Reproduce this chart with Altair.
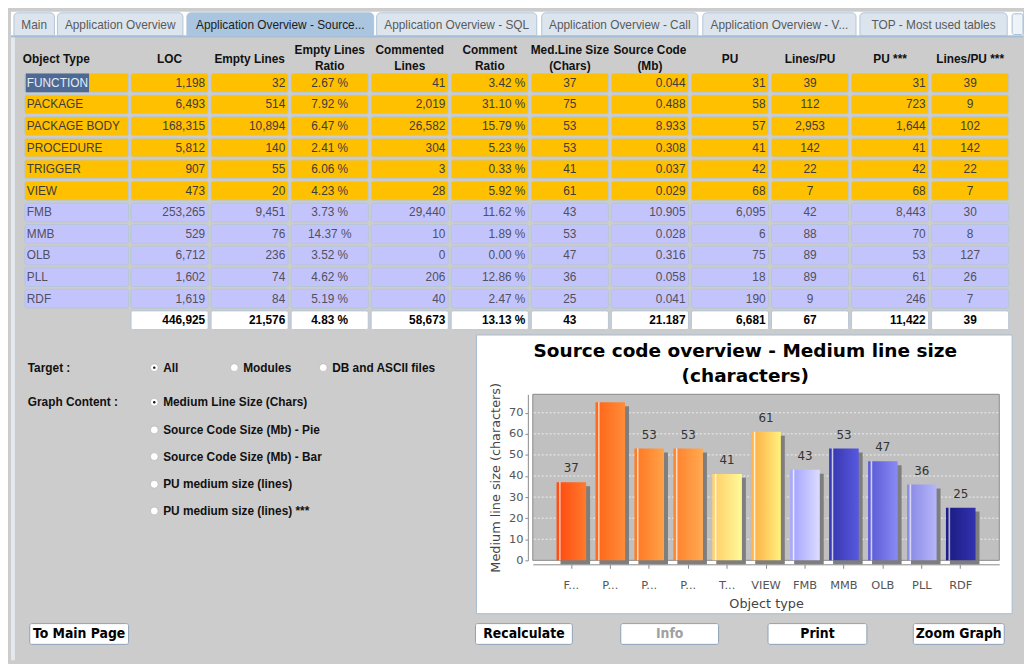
import altair as alt
import pandas as pd

# ------------------------------------------------------------------ data
tab_labels = ["Main", "Application Overview", "Application Overview - Source...",
              "Application Overview - SQL", "Application Overview - Call",
              "Application Overview - V...", "TOP - Most used tables"]
active_tab = "Application Overview - Source..."

object_types = ["FUNCTION", "PACKAGE", "PACKAGE BODY", "PROCEDURE", "TRIGGER", "VIEW",
                "FMB", "MMB", "OLB", "PLL", "RDF"]
object_groups = ["Database", "Database", "Database", "Database", "Database", "Database",
                 "File", "File", "File", "File", "File"]
selected_object = "FUNCTION"

column_names = ["LOC", "Empty Lines", "Empty Lines Ratio", "Commented Lines", "Comment Ratio",
                "Med.Line Size (Chars)", "Source Code (Mb)", "PU", "Lines/PU", "PU ***", "Lines/PU ***"]
column_headers = ["LOC", "Empty Lines", "Empty Lines\nRatio", "Commented\nLines", "Comment\nRatio",
                  "Med.Line Size\n(Chars)", "Source Code\n(Mb)", "PU", "Lines/PU", "PU ***", "Lines/PU ***"]
first_column = "Object Type"

loc = [1198, 6493, 168315, 5812, 907, 473, 253265, 529, 6712, 1602, 1619]
empty_lines = [32, 514, 10894, 140, 55, 20, 9451, 76, 236, 74, 84]
empty_ratio = [2.67, 7.92, 6.47, 2.41, 6.06, 4.23, 3.73, 14.37, 3.52, 4.62, 5.19]
commented = [41, 2019, 26582, 304, 3, 28, 29440, 10, 0, 206, 40]
comment_ratio = [3.42, 31.10, 15.79, 5.23, 0.33, 5.92, 11.62, 1.89, 0.00, 12.86, 2.47]
med_line_size = [37, 75, 53, 53, 41, 61, 43, 53, 47, 36, 25]
source_mb = [0.044, 0.488, 8.933, 0.308, 0.037, 0.029, 10.905, 0.028, 0.316, 0.058, 0.041]
pu = [31, 58, 57, 41, 42, 68, 6095, 6, 75, 18, 190]
lines_per_pu = [39, 112, 2953, 142, 22, 7, 42, 88, 89, 89, 9]
pu_3 = [31, 723, 1644, 41, 42, 68, 8443, 70, 53, 61, 246]
lines_per_pu_3 = [39, 9, 102, 142, 22, 7, 30, 8, 127, 26, 7]
totals = [446925, 21576, 4.83, 58673, 13.13, 43, 21.187, 6681, 67, 11422, 39]

target_label = "Target :"
target_options = ["All", "Modules", "DB and ASCII files"]
target_selected = "All"
graph_label = "Graph Content :"
graph_options = ["Medium Line Size (Chars)", "Source Code Size (Mb) - Pie",
                 "Source Code Size (Mb) - Bar", "PU medium size (lines)", "PU medium size (lines) ***"]
graph_selected = "Medium Line Size (Chars)"

button_labels = ["To Main Page", "Recalculate", "Info", "Print", "Zoom Graph"]
disabled_buttons = ["Info"]

chart_title = ["Source code overview - Medium line size", "(characters)"]
x_title = "Object type"
y_title = "Medium line size (characters)"
y_ticks = [0, 10, 20, 30, 40, 50, 60, 70]
y_max = 78.75

# ------------------------------------------------------------------ styles / layout
UI_FONT = "Liberation Sans"
CHART_FONT = "DejaVu Sans"
BTN_FONT = "Liberation Sans Narrow, DejaVu Sans Condensed, Liberation Sans"
PANEL = "#CCCCCC"
COLUMN_KIND = ["int", "int", "pct", "int", "pct", "int", "mb", "int", "int", "int", "int"]
COLUMN_ALIGN = ["right", "right", "center", "right", "right", "center", "right", "right",
                "center", "right", "center"]
GROUP_FILL = {"Database": "#FFC000", "File": "#C4C4FC", "Total": "#FFFFFF"}
GROUP_TEXT = {"Database": "#3C3C3C", "File": "#50505E", "Total": "#000000"}
SELECTED_TEXT = "#E4ECF6"
BAR_COLORS = {
    "FUNCTION": ("#FF4F12", "#FF7B2E"), "PACKAGE": ("#FF6A1C", "#FF8D3A"),
    "PACKAGE BODY": ("#FF7C28", "#FFA248"), "PROCEDURE": ("#FF8630", "#FFAA52"),
    "TRIGGER": ("#FFD36E", "#FFFA9A"), "VIEW": ("#FFB54A", "#FFF27C"),
    "FMB": ("#A9A9FF", "#DCDCFF"), "MMB": ("#3A3AB4", "#5858E0"),
    "OLB": ("#5F5FD8", "#8A8AF6"), "PLL": ("#8E8EE8", "#B6B6FA"),
    "RDF": ("#1E1E86", "#3232B0"),
}
TAB_LAYOUT = [(3, 44), (47, 174), (178, 367), (370, 532), (537, 695), (700, 855), (859, 1008)]
BUTTON_LAYOUT = [(19, 119), (470, 568), (617, 716), (766, 866), (913, 1005)]
TARGET_X = [154, 235, 325]
GRAPH_Y = [8, 36, 63, 91, 118]
FIRST_COL_RANGE = [14, 119]
REST_COL_RANGE = [120, 1011]
COL_PAD_INNER, COL_PAD_OUTER = 0.037, 0.0185
PLOT_RANGE = [528, 1000]      # horizontal extent of the bar plot inside the bottom row
PLOT_H = 168
NO_STROKE = alt.ViewBackground(stroke="transparent", strokeWidth=0)

# band widths, used to shift texts to the cell edges
first_band = FIRST_COL_RANGE[1] - FIRST_COL_RANGE[0]
rest_step = (REST_COL_RANGE[1] - REST_COL_RANGE[0]) / (len(column_names) - COL_PAD_INNER + 2 * COL_PAD_OUTER)
rest_band = rest_step * (1 - COL_PAD_INNER)

one = pd.DataFrame({"v": [0]})


def fmt(v, kind):
    if kind == "pct":
        return f"{v:.2f} %"
    if kind == "mb":
        return f"{v:.3f}"
    return f"{int(v):,}"


def blend(c, w):
    r, g, b = int(c[1:3], 16), int(c[3:5], 16), int(c[5:7], 16)
    return "#%02X%02X%02X" % tuple(int(x + (255 - x) * w) for x in (r, g, b))


# ------------------------------------------------------------------ tabs row
tab_df = pd.DataFrame({
    "label": tab_labels,
    "x0": [a for a, b in TAB_LAYOUT], "x1": [b for a, b in TAB_LAYOUT],
    "xm": [(a + b) / 2 for a, b in TAB_LAYOUT],
    "active": [t == active_tab for t in tab_labels],
})
tab_bg = alt.Chart(one).mark_rect(fill="#FFFFFF").encode(
    x=alt.value(0), x2=alt.value(1024), y=alt.value(0), y2=alt.value(24))
tab_line = alt.Chart(one).mark_rect(fill="#A6BED6").encode(
    x=alt.value(0), x2=alt.value(1024), y=alt.value(24), y2=alt.value(26))
left_strip = alt.Chart(one).mark_rect(fill="#E4E9EE").encode(
    x=alt.value(0), x2=alt.value(4), y=alt.value(26), y2=alt.value(656))
scroll_box = alt.Chart(one).mark_rect(fill="#EEF3F8", stroke="#A6BED6", cornerRadius=2).encode(
    x=alt.value(1013), x2=alt.value(1024), y=alt.value(2), y2=alt.value(23))
tab_rects = alt.Chart(tab_df).mark_rect(
    cornerRadiusTopLeft=4, cornerRadiusTopRight=4, stroke="#B3C4D6", strokeWidth=1).encode(
    x=alt.X("x0:Q", scale=None, axis=None), x2="x1:Q",
    y=alt.value(1), y2=alt.value(24),
    fill=alt.condition(alt.datum.active, alt.value("#A9C5DF"), alt.value("#DCE5EE")))
tab_text = alt.Chart(tab_df).mark_text(font=UI_FONT, fontSize=12, baseline="middle").encode(
    x=alt.X("xm:Q", scale=None, axis=None), y=alt.value(13), text="label:N",
    color=alt.condition(alt.datum.active, alt.value("#202020"), alt.value("#5A5A5A")))
tabs = alt.layer(tab_bg, tab_line, left_strip, scroll_box, tab_rects, tab_text).properties(
    width=1024, height=26, view=NO_STROKE)

# ------------------------------------------------------------------ table
series = [loc, empty_lines, empty_ratio, commented, comment_ratio, med_line_size,
          source_mb, pu, lines_per_pu, pu_3, lines_per_pu_3]
rows = []
for i, obj in enumerate(object_types):
    for j, col in enumerate(column_names):
        rows.append(dict(row=obj, col=col, text=fmt(series[j][i], COLUMN_KIND[j]),
                         align=COLUMN_ALIGN[j], group=object_groups[i],
                         tcolor=GROUP_TEXT[object_groups[i]]))
for j, col in enumerate(column_names):
    rows.append(dict(row="Total", col=col, text=fmt(totals[j], COLUMN_KIND[j]),
                     align=COLUMN_ALIGN[j], group="Total", tcolor=GROUP_TEXT["Total"]))
body_df = pd.DataFrame(rows)
row_domain = object_types + ["Total"]

col_scale = alt.Scale(domain=column_names, range=REST_COL_RANGE, paddingInner=COL_PAD_INNER,
                      paddingOuter=COL_PAD_OUTER)
first_scale = alt.Scale(domain=[first_column], range=FIRST_COL_RANGE, paddingInner=0, paddingOuter=0)
row_scale = alt.Scale(domain=row_domain, paddingInner=0.13, paddingOuter=0.065)
fill_scale = alt.Scale(domain=list(GROUP_FILL), range=list(GROUP_FILL.values()))
Y = alt.Y("row:N", scale=row_scale, axis=None)

cells = alt.Chart(body_df).mark_rect(stroke="#B5C6D8", strokeWidth=1, cornerRadius=2).encode(
    x=alt.X("col:N", scale=col_scale, axis=None), y=Y,
    fill=alt.Fill("group:N", scale=fill_scale, legend=None))
text_layers = []
for al in ["right", "center"]:
    for bold in [False, True]:
        cond = (alt.datum.align == al) & ((alt.datum.group == "Total") if bold else (alt.datum.group != "Total"))
        text_layers.append(
            alt.Chart(body_df).transform_filter(cond).mark_text(
                align=al, baseline="middle", dx=(rest_band / 2 - 3) if al == "right" else 0,
                font=UI_FONT, fontSize=12, fontWeight="bold" if bold else "normal").encode(
                x=alt.X("col:N", scale=col_scale, axis=None),
                y=Y, text="text:N", color=alt.Color("tcolor:N", scale=None)))

first_df = pd.DataFrame({
    "row": object_types, "col": first_column, "group": object_groups,
    "tcolor": [SELECTED_TEXT if o == selected_object else GROUP_TEXT[g]
               for o, g in zip(object_types, object_groups)],
})
first_cells = alt.Chart(first_df).mark_rect(stroke="#B5C6D8", strokeWidth=1, cornerRadius=2).encode(
    x=alt.X("col:N", scale=first_scale, axis=None), y=Y,
    fill=alt.Fill("group:N", scale=fill_scale, legend=None))
highlight = alt.Chart(first_df).transform_filter(alt.datum.row == selected_object).mark_rect(
    fill="#4E6A94").encode(x=alt.value(FIRST_COL_RANGE[0] + 1), x2=alt.value(FIRST_COL_RANGE[0] + 65), y=Y)
first_text = alt.Chart(first_df).mark_text(align="left", baseline="middle", dx=-first_band / 2 + 2,
                                           font=UI_FONT, fontSize=12).encode(
    x=alt.X("col:N", scale=first_scale, axis=None), y=Y, text="row:N",
    color=alt.Color("tcolor:N", scale=None))
body = alt.layer(first_cells, highlight, first_text, cells, *text_layers).resolve_scale(
    x="independent").properties(width=1011, height=262, view=NO_STROKE)

head_first = alt.Chart(pd.DataFrame({"col": [first_column]})).mark_text(
    align="left", baseline="middle", dx=-first_band / 2 - 2, font=UI_FONT, fontSize=12,
    fontWeight="bold", color="#111111").encode(
    x=alt.X("col:N", scale=first_scale, axis=None), y=alt.value(22), text="col:N")
head_rest = alt.Chart(pd.DataFrame({"col": column_names, "label": column_headers})).transform_calculate(
    ty="indexof(datum.label, '\\n') >= 0 ? 13 : 22").mark_text(
    align="center", baseline="middle", lineBreak="\n", lineHeight=16, font=UI_FONT, fontSize=12,
    fontWeight="bold", color="#111111").encode(
    x=alt.X("col:N", scale=col_scale, axis=None), y=alt.Y("ty:Q", scale=None, axis=None), text="label:N")
header = alt.layer(head_first, head_rest).resolve_scale(x="independent").properties(
    width=1011, height=35, view=NO_STROKE)

# ------------------------------------------------------------------ white chart panel (drawn under the chart)
panel_box = alt.Chart(one).mark_rect(fill="#FFFFFF", stroke="#A7BBD0", strokeWidth=1).encode(
    x=alt.value(471), x2=alt.value(1013), y=alt.value(4), y2=alt.value(286))
gap_row = panel_box.properties(width=1011, height=64, view=NO_STROKE)

# ------------------------------------------------------------------ bottom row: controls + bar chart
label_df = pd.DataFrame({"text": [target_label, graph_label], "x": [17, 17], "y": [-27, 8]})
opt_df = pd.DataFrame({
    "text": target_options + graph_options,
    "x": TARGET_X + [154] * len(graph_options),
    "y": [-27] * len(target_options) + GRAPH_Y,
    "sel": [t == target_selected for t in target_options] + [g == graph_selected for g in graph_options],
})
opt_df["rx"] = opt_df["x"] - 9
lbl_layer = alt.Chart(label_df).mark_text(align="left", baseline="middle", font=UI_FONT, fontSize=12,
                                          fontWeight="bold", color="#111111").encode(
    x=alt.X("x:Q", scale=None, axis=None), y=alt.Y("y:Q", scale=None, axis=None), text="text:N")
opt_layer = alt.Chart(opt_df).mark_text(align="left", baseline="middle", font=UI_FONT, fontSize=12,
                                        fontWeight="bold", color="#111111").encode(
    x=alt.X("x:Q", scale=None, axis=None), y=alt.Y("y:Q", scale=None, axis=None), text="text:N")
radio = alt.Chart(opt_df).mark_circle(size=64, color="#FFFFFF", opacity=1, stroke="#A8A8A8",
                                      strokeWidth=0.6).encode(
    x=alt.X("rx:Q", scale=None, axis=None), y=alt.Y("y:Q", scale=None, axis=None))
radio_dot = alt.Chart(opt_df).transform_filter(alt.datum.sel).mark_circle(
    size=6, color="#111111", opacity=1).encode(
    x=alt.X("rx:Q", scale=None, axis=None), y=alt.Y("y:Q", scale=None, axis=None))

bar_df = pd.DataFrame({"type": object_types, "value": med_line_size})
grid_df = pd.DataFrame({"value": [t for t in y_ticks if t > 0]})
x_enc = alt.X("type:N", sort=object_types,
              scale=alt.Scale(domain=object_types, range=PLOT_RANGE, paddingInner=0.24, paddingOuter=0.61),
              axis=alt.Axis(title=x_title, labelAngle=0,
                            labelExpr="length(datum.label) > 4 ? substring(datum.label, 0, 1) + '...' : datum.label",
                            offset=4, tickSize=4, domainColor="#8A8A8A", tickColor="#8A8A8A",
                            labelColor="#555555", labelFont=CHART_FONT, labelFontSize=11.5, labelPadding=11,
                            titleFont=CHART_FONT, titleFontSize=13, titleFontWeight="normal",
                            titleColor="#444444", titlePadding=7, grid=False))
y_enc = alt.Y("value:Q", scale=alt.Scale(domain=[0, y_max], nice=False),
              axis=alt.Axis(title=y_title, values=y_ticks, offset=-(PLOT_RANGE[0] - 5), tickSize=3,
                            labelPadding=2, domainColor="#8A8A8A", tickColor="#8A8A8A",
                            labelColor="#555555", labelFont=CHART_FONT, labelFontSize=11.5,
                            titleFont=CHART_FONT, titleFontSize=13, titleFontWeight="normal",
                            titleColor="#444444", titlePadding=6, grid=False))
plot_bg = alt.Chart(one).mark_rect(fill="#C0C0C0", stroke="#8A8A8A", strokeWidth=1).encode(
    x=alt.value(PLOT_RANGE[0]), x2=alt.value(PLOT_RANGE[1]), y=alt.value(0), y2=alt.value(PLOT_H))
grid = alt.Chart(grid_df).mark_rule(color="#EEEEEE", strokeDash=[2, 2], strokeWidth=1).encode(
    y=y_enc, x=alt.value(PLOT_RANGE[0] + 1), x2=alt.value(PLOT_RANGE[1] - 1))
base = alt.Chart(bar_df).encode(x=x_enc, y=y_enc)
shadow = base.mark_bar(color="#7E7E7E", xOffset=4, yOffset=4)
bar_layers = []
for t in object_types:
    left, right = BAR_COLORS[t]
    grad = alt.LinearGradient(gradient="linear", x1=0, y1=0, x2=1, y2=0, stops=[
        alt.GradientStop(color=left, offset=0),
        alt.GradientStop(color=left, offset=0.07),
        alt.GradientStop(color=blend(left, 0.8), offset=0.11),
        alt.GradientStop(color=left, offset=0.16),
        alt.GradientStop(color=right, offset=1)])
    bar_layers.append(base.transform_filter(alt.datum.type == t).mark_bar(color=grad))
labels = base.mark_text(dy=-14, clip=True, font=CHART_FONT, fontSize=12, color="#333333",
                        baseline="middle").encode(text="value:Q")

bottom = alt.layer(lbl_layer, opt_layer, radio, radio_dot, plot_bg, grid, shadow, *bar_layers,
                   labels).properties(
    width=PLOT_RANGE[1], height=PLOT_H, view=NO_STROKE,
    title=alt.TitleParams(text=chart_title, font=CHART_FONT, fontSize=18.7, fontWeight="bold",
                          color="#000000", anchor="middle", lineHeight=25, offset=-24,
                          dx=243, frame="group"))

# ------------------------------------------------------------------ buttons
btn_df = pd.DataFrame({
    "label": button_labels,
    "x0": [a for a, b in BUTTON_LAYOUT], "x1": [b for a, b in BUTTON_LAYOUT],
    "xm": [(a + b) / 2 for a, b in BUTTON_LAYOUT],
    "disabled": [b in disabled_buttons for b in button_labels],
})
btn_rect = alt.Chart(btn_df).mark_rect(fill="#FFFFFF", stroke="#8EA0B8", strokeWidth=1, cornerRadius=2).encode(
    x=alt.X("x0:Q", scale=None, axis=None), x2="x1:Q", y=alt.value(0), y2=alt.value(21))
btn_text = alt.Chart(btn_df).mark_text(font=BTN_FONT, fontSize=14, fontWeight="bold", baseline="middle").encode(
    x=alt.X("xm:Q", scale=None, axis=None), y=alt.value(10.5), text="label:N",
    color=alt.condition(alt.datum.disabled, alt.value("#A0A0A0"), alt.value("#000000")))
buttons = alt.layer(btn_rect, btn_text).properties(width=1024, height=22, view=NO_STROKE)

spacer = alt.Chart(one).mark_point(opacity=0).encode(x=alt.value(0), y=alt.value(0)).properties(
    width=1, height=64, view=NO_STROKE)

# ------------------------------------------------------------------ page
chart = alt.vconcat(tabs, header, body, gap_row, bottom, spacer, buttons,
                    spacing=0, bounds="flush").properties(
    padding={"left": 0, "top": 0, "right": 0, "bottom": 0}, background=PANEL
).configure(font=UI_FONT).configure_view(stroke="transparent", strokeWidth=0)

chart.save("out.html", embed_options={"renderer": "svg", "actions": False})
